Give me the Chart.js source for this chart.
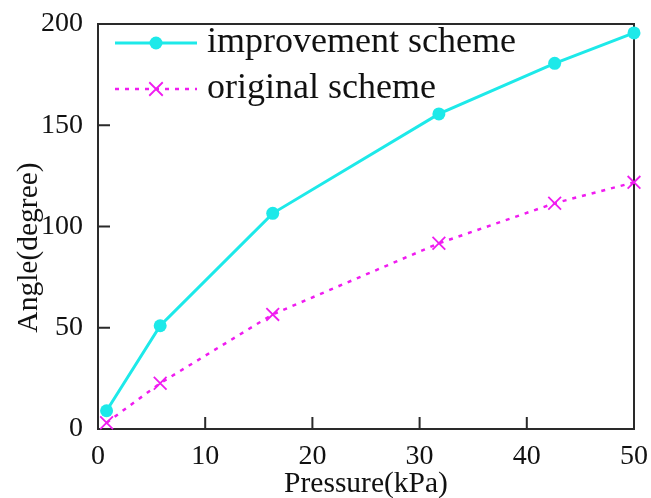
<!DOCTYPE html>
<html><head><meta charset="utf-8">
<script src="https://cdn.jsdelivr.net/npm/chart.js@4.4.1/dist/chart.umd.min.js"></script>
<style>html,body{margin:0;padding:0;background:#fff;}#wrap{width:651px;height:498px;}</style>
</head><body><div id="wrap"><canvas id="c" width="651" height="498"></canvas></div>
<script>
// Data
const pressure = [0.8, 5.8, 16.3, 31.8, 42.6, 50];
const improvementAngle = [9, 51, 106.5, 155.6, 180.6, 195.6];
const originalAngle = [3.1, 22.6, 56.6, 91.7, 111.5, 121.8];
const seriesNames = ['improvement scheme', 'original scheme'];
const xTickValues = [0, 10, 20, 30, 40, 50];
const yTickValues = [0, 50, 100, 150, 200];
const xTitle = 'Pressure(kPa)';
const yTitle = 'Angle(degree)';

const FONT = 'Liberation Serif';
Chart.defaults.font.family = FONT;
Chart.defaults.color = '#111';

const toPts = (xs, ys) => xs.map((x, i) => ({x: x, y: ys[i]}));

const framePlugin = {
  id: 'frame',
  beforeDatasetsDraw(chart) {
    const {ctx, chartArea: a, scales} = chart;
    ctx.save();
    ctx.strokeStyle = '#2a2a2a';
    ctx.lineWidth = 2;
    ctx.strokeRect(a.left, a.top, a.right - a.left, a.bottom - a.top);
    ctx.beginPath();
    const tl = 12;
    xTickValues.forEach(v => {
      const px = scales.x.getPixelForValue(v);
      if (px > a.left + 1 && px < a.right - 1) { ctx.moveTo(px, a.bottom); ctx.lineTo(px, a.bottom - tl); }
    });
    yTickValues.forEach(v => {
      const py = scales.y.getPixelForValue(v);
      if (py > a.top + 1 && py < a.bottom - 1) { ctx.moveTo(a.left, py); ctx.lineTo(a.left + tl, py); }
    });
    ctx.stroke();
    // y axis title
    ctx.fillStyle = '#111';
    ctx.font = '29.5px "' + FONT + '"';
    ctx.textAlign = 'center';
    ctx.textBaseline = 'middle';
    ctx.translate(29.5, (a.top + a.bottom) / 2 + 21);
    ctx.rotate(-Math.PI / 2);
    ctx.fillText(yTitle, 0, 0);
    ctx.restore();
  }
};

const legendPlugin = {
  id: 'inLegend',
  afterDraw(chart) {
    const {ctx, chartArea: a} = chart;
    ctx.save();
    const x0 = a.left + 17, x1 = a.left + 99, mx = (x0 + x1) / 2;
    const rows = [a.top + 19, a.top + 65];
    chart.data.datasets.forEach((ds, i) => {
      const y = rows[i];
      ctx.strokeStyle = ds.borderColor;
      ctx.lineWidth = ds.borderWidth;
      ctx.setLineDash(ds.borderDash || []);
      ctx.beginPath(); ctx.moveTo(x0, y); ctx.lineTo(x1, y); ctx.stroke();
      ctx.setLineDash([]);
      if (ds.pointStyle === 'circle') {
        ctx.fillStyle = ds.pointBackgroundColor;
        ctx.beginPath(); ctx.arc(mx, y, ds.pointRadius, 0, Math.PI * 2); ctx.fill();
      } else {
        const r = ds.pointRadius * 0.75;
        ctx.strokeStyle = ds.pointBorderColor;
        ctx.lineWidth = ds.pointBorderWidth;
        ctx.beginPath();
        ctx.moveTo(mx - r, y - r); ctx.lineTo(mx + r, y + r);
        ctx.moveTo(mx + r, y - r); ctx.lineTo(mx - r, y + r);
        ctx.stroke();
      }
      ctx.fillStyle = '#111';
      ctx.font = '36px "' + FONT + '"';
      ctx.textBaseline = 'middle';
      ctx.textAlign = 'left';
      ctx.fillText(ds.label, x1 + 10, y);
    });
    ctx.restore();
  }
};

new Chart(document.getElementById('c'), {
  type: 'line',
  data: {
    datasets: [
      {
        label: seriesNames[0],
        data: toPts(pressure, improvementAngle),
        borderColor: '#1de9e9',
        backgroundColor: '#1de9e9',
        borderWidth: 3,
        pointStyle: 'circle',
        pointRadius: 6.5,
        pointBackgroundColor: '#1de9e9',
        pointBorderColor: '#1de9e9',
        pointBorderWidth: 0,
        tension: 0,
        clip: false
      },
      {
        label: seriesNames[1],
        data: toPts(pressure, originalAngle),
        borderColor: '#f01cf0',
        backgroundColor: '#f01cf0',
        borderWidth: 2.5,
        borderDash: [4, 6],
        pointStyle: 'cross',
        rotation: 45,
        pointRadius: 9,
        pointBorderColor: '#f01cf0',
        pointBorderWidth: 1.8,
        tension: 0,
        clip: false
      }
    ]
  },
  options: {
    responsive: false,
    animation: false,
    layout: {padding: {top: 24, right: 11, left: 0, bottom: 0}},
    plugins: {legend: {display: false}, tooltip: {enabled: false}},
    scales: {
      x: {
        type: 'linear', min: 0, max: 50,
        afterBuildTicks: s => { s.ticks = xTickValues.map(v => ({value: v})); },
        afterFit: s => { s.height = 69; },
        grid: {display: false},
        border: {display: false},
        ticks: {font: {size: 28}, padding: 3, color: '#111', maxRotation: 0},
        title: {display: true, text: xTitle, font: {size: 29.5}, color: '#111', padding: {top: 0, bottom: -4}}
      },
      y: {
        type: 'linear', min: 0, max: 200,
        afterBuildTicks: s => { s.ticks = yTickValues.map(v => ({value: v})); },
        afterFit: s => { s.width = 98; },
        grid: {display: false},
        border: {display: false},
        ticks: {font: {size: 28}, padding: 7, color: '#111'},
        title: {display: false, text: yTitle}
      }
    }
  },
  plugins: [framePlugin, legendPlugin]
});
</script>
</body></html>
